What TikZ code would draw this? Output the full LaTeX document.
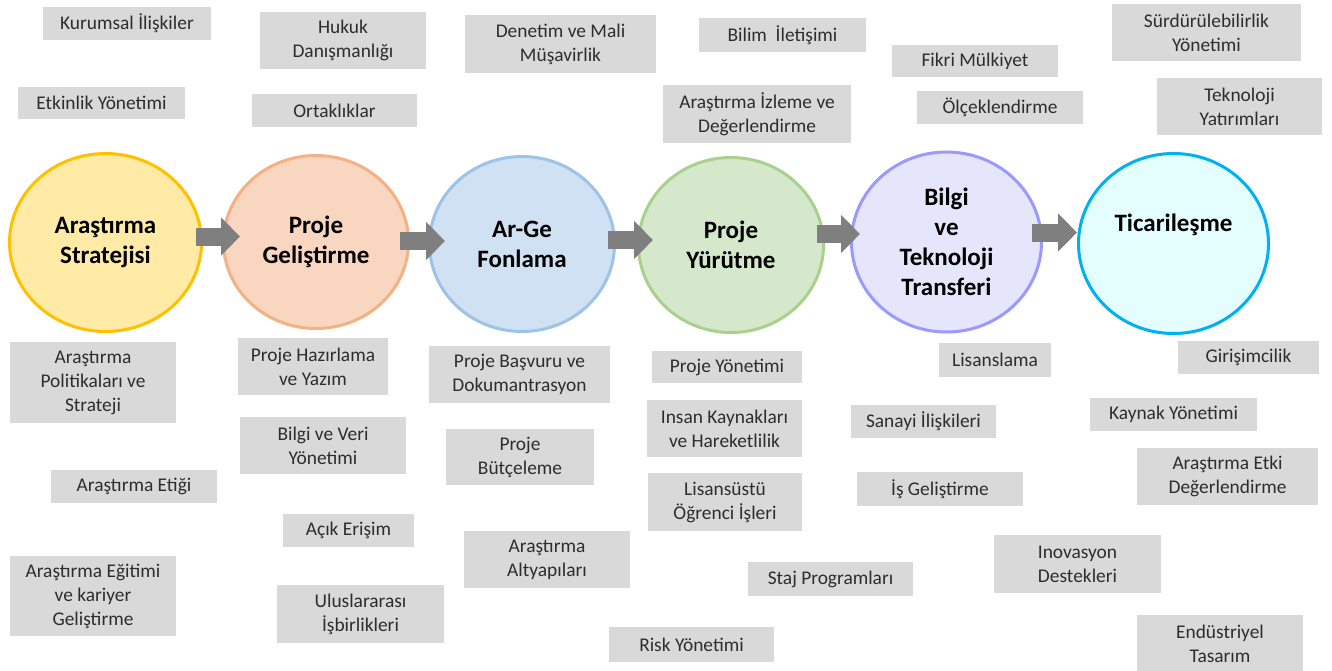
\documentclass[tikz,border=0pt]{standalone}
\usepackage{fontspec}
\setmainfont{Carlito}
\usetikzlibrary{shapes.geometric,arrows.meta,calc}
\definecolor{boxgray}{RGB}{217,217,217}
\definecolor{txtgray}{RGB}{45,45,45}
\definecolor{arrowgray}{RGB}{127,127,127}
\definecolor{cAf}{RGB}{255,235,165}\definecolor{cAd}{RGB}{255,192,0}
\definecolor{cBf}{RGB}{248,214,192}\definecolor{cBd}{RGB}{244,177,131}
\definecolor{cCf}{RGB}{207,225,243}\definecolor{cCd}{RGB}{157,195,230}
\definecolor{cDf}{RGB}{214,232,203}\definecolor{cDd}{RGB}{169,209,142}
\definecolor{cEf}{RGB}{229,229,252}\definecolor{cEd}{RGB}{153,153,255}
\definecolor{cFf}{RGB}{228,253,255}\definecolor{cFd}{RGB}{0,176,240}
\begin{document}
\begin{tikzpicture}[x=1pt,y=-1pt,
  lbl/.style={fill=boxgray, inner sep=0pt, align=center, text=txtgray,
    font=\fontsize{19.4}{24}\selectfont},
  stagefont/.style={font=\bfseries\fontsize{25}{30}\selectfont, text=black},
  stage/.style={ellipse, line width=3pt, inner sep=0pt, align=center, stagefont},
  flow/.style={draw=arrowgray, line width=18pt, -{Triangle[length=19pt,width=37pt]}}]
\useasboundingbox (0,0) rectangle (1332,670);

% top boxes
\node[lbl, minimum width=168pt, minimum height=33pt] (kurumsal) at (127,23.5) {Kurumsal İlişkiler};
\node[lbl, minimum width=166pt, minimum height=57pt] (hukuk) at (343,40.5) {Hukuk\\Danışmanlığı};
\node[lbl, minimum width=167pt, minimum height=32pt] (etkinlik) at (101.5,103) {Etkinlik Yönetimi};
\node[lbl, minimum width=165pt, minimum height=33pt] (ortak) at (334.5,110.5) {Ortaklıklar};
\node[lbl, minimum width=191pt, minimum height=58pt] (denetim) at (560.5,44) {Denetim ve Mali\\Müşavirlik};
\node[lbl, minimum width=167pt, minimum height=34pt] (bilim) at (782.5,35) {Bilim\ \ İletişimi};
\node[lbl, minimum width=188pt, minimum height=58pt] (izleme) at (757,114) {Araştırma İzleme ve\\Değerlendirme};
\node[lbl, minimum width=166pt, minimum height=32pt] (fikri) at (975,61) {Fikri Mülkiyet};
\node[lbl, minimum width=166pt, minimum height=33pt] (olcek) at (1000,107.5) {Ölçeklendirme};
\node[lbl, minimum width=189pt, minimum height=57pt] (surdur) at (1206.5,32.5) {Sürdürülebilirlik\\Yönetimi};
\node[lbl, minimum width=165pt, minimum height=57pt] (tekyat) at (1239.5,106.5) {Teknoloji\\Yatırımları};

% bottom boxes
\node[lbl, minimum width=166pt, minimum height=81pt] (politika) at (93,382.5) {Araştırma\\Politikaları ve\\Strateji};
\node[lbl, minimum width=150pt, minimum height=57pt] (hazirlama) at (313,366.5) {Proje Hazırlama\\ve Yazım};
\node[lbl, minimum width=181pt, minimum height=57pt] (basvuru) at (519.5,374.5) {Proje Başvuru ve\\Dokumantrasyon};
\node[lbl, minimum width=150pt, minimum height=32pt] (pyonetim) at (727,367) {Proje Yönetimi};
\node[lbl, minimum width=112pt, minimum height=34pt] (lisanslama) at (995,360) {Lisanslama};
\node[lbl, minimum width=141pt, minimum height=33pt] (girisim) at (1248.5,357.5) {Girişimcilik};
\node[lbl, minimum width=166pt, minimum height=57pt] (veri) at (323,445.5) {Bilgi ve Veri\\Yönetimi};
\node[lbl, minimum width=148pt, minimum height=56pt] (butce) at (520,457) {Proje\\Bütçeleme};
\node[lbl, minimum width=155pt, minimum height=57pt] (insan) at (724.5,428.5) {Insan Kaynakları\\ve Hareketlilik};
\node[lbl, minimum width=145pt, minimum height=33pt] (sanayi) at (923.5,421.5) {Sanayi İlişkileri};
\node[lbl, minimum width=167pt, minimum height=33pt] (kaynak) at (1173.5,414.5) {Kaynak Yönetimi};
\node[lbl, minimum width=166pt, minimum height=33pt] (etik) at (134,486.5) {Araştırma Etiği};
\node[lbl, minimum width=154pt, minimum height=58pt] (lisansustu) at (725,502) {Lisansüstü\\Öğrenci İşleri};
\node[lbl, minimum width=166pt, minimum height=34pt] (isgel) at (940,489) {İş Geliştirme};
\node[lbl, minimum width=181pt, minimum height=57pt] (etki) at (1227.5,476.5) {Araştırma Etki\\Değerlendirme};
\node[lbl, minimum width=131pt, minimum height=33pt] (acik) at (348.5,530.5) {Açık Erişim};
\node[lbl, minimum width=166pt, minimum height=57pt] (altyapi) at (547,559.5) {Araştırma\\Altyapıları};
\node[lbl, minimum width=167pt, minimum height=58pt] (inovasyon) at (1077.5,564) {Inovasyon\\Destekleri};
\node[lbl, minimum width=166pt, minimum height=80pt] (egitim) at (93,596) {Araştırma Eğitimi\\ve kariyer\\Geliştirme};
\node[lbl, minimum width=167pt, minimum height=58pt] (uluslar) at (360.5,614) {Uluslararası\\İşbirlikleri};
\node[lbl, minimum width=165pt, minimum height=34pt] (staj) at (830.5,579) {Staj Programları};
\node[lbl, minimum width=165pt, minimum height=35pt] (risk) at (691.5,644.5) {Risk Yönetimi};
\node[lbl, minimum width=166pt, minimum height=57pt] (endustri) at (1220,643.5) {Endüstriyel\\Tasarım};

% stages
\node[stage, draw=cAd, fill=cAf, minimum width=192pt, minimum height=178pt] (c1) at (105.5,242.5) {Araştırma\\Stratejisi};
\node[stage, draw=cBd, fill=cBf, minimum width=185pt, minimum height=173pt] (c2) at (316,242) {Proje\\Geliştirme};
\node[stage, draw=cCd, fill=cCf, minimum width=185pt, minimum height=175pt] (c3) at (522,244) {Ar-Ge\\Fonlama};
\node[stage, draw=cDd, fill=cDf, minimum width=185pt, minimum height=175pt] (c4) at (731,245) {Proje\\Yürütme};
\node[stage, draw=cEd, fill=cEf, minimum width=190pt, minimum height=180pt] (c5) at (946.5,242) {Bilgi\\ve\\Teknoloji\\Transferi};
\node[stage, draw=cFd, fill=cFf, minimum width=190pt, minimum height=180pt,
  label={[stagefont, yshift=18.5pt]center:Ticarileşme}] (c6) at (1173.5,243.5) {};

% flow arrows
\draw[flow] ($(c1.center)+(90.5,-6)$) -- ($(c2.center)+(-76,-5.5)$);
\draw[flow] ($(c2.center)+(84,-1)$) -- ($(c3.center)+(-77,-3)$);
\draw[flow] ($(c3.center)+(86,-4)$) -- ($(c4.center)+(-78,-5)$);
\draw[flow] ($(c4.center)+(86,-11)$) -- ($(c5.center)+(-86.5,-8)$);
\draw[flow] ($(c5.center)+(85.5,-9.5)$) -- ($(c6.center)+(-96.5,-11)$);
\end{tikzpicture}
\end{document}
